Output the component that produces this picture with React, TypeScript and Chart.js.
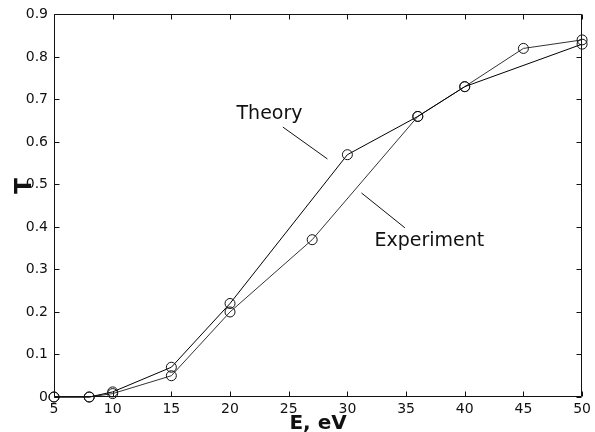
import React, { useEffect, useRef } from "react";
import { Chart, registerables } from "chart.js";

Chart.register(...registerables);

// Transmission T versus electron energy E (eV)
const theoryEnergy = [5, 8, 10, 15, 20, 30, 36, 40, 50];
const theoryT = [0, 0, 0.012, 0.07, 0.22, 0.57, 0.66, 0.73, 0.83];

const experimentEnergy = [5, 8, 10, 15, 20, 27, 36, 40, 45, 50];
const experimentT = [0, 0, 0.008, 0.05, 0.2, 0.37, 0.66, 0.73, 0.82, 0.84];

const xTickLabels = ["5", "10", "15", "20", "25", "30", "35", "40", "45", "50"];
const yTickLabels = ["0", "0.1", "0.2", "0.3", "0.4", "0.5", "0.6", "0.7", "0.8", "0.9"];

const xTitle = "E, eV";
const yTitle = "T";

// In-plot callouts, in data units: text anchor and leader line
const callouts = [
  { text: "Theory", at: [20.55, 0.655], from: [24.5, 0.635], to: [28.3, 0.56] },
  { text: "Experiment", at: [32.3, 0.355], from: [31.2, 0.48], to: [34.9, 0.398] },
];

const FONT = "'DejaVu Sans', sans-serif";
const INK = "#111";

const boxPlugin = {
  id: "boxAndTicks",
  afterDraw(chart: any) {
    const { ctx, chartArea: a, scales } = chart;
    const L = Math.round(a.left) + 0.5;
    const R = Math.round(a.right) - 0.5;
    const T = Math.round(a.top) + 0.5;
    const B = Math.round(a.bottom) - 0.5;
    const len = 5;
    ctx.save();
    ctx.strokeStyle = INK;
    ctx.lineWidth = 1;
    ctx.beginPath();
    ctx.rect(L, T, R - L, B - T);
    scales.x.ticks.forEach((t: any) => {
      const px = Math.round(scales.x.getPixelForValue(t.value)) + 0.5;
      ctx.moveTo(px, B);
      ctx.lineTo(px, B - len);
      ctx.moveTo(px, T);
      ctx.lineTo(px, T + len);
    });
    scales.y.ticks.forEach((t: any) => {
      const py = Math.round(scales.y.getPixelForValue(t.value)) + 0.5;
      ctx.moveTo(L, py);
      ctx.lineTo(L + len, py);
      ctx.moveTo(R, py);
      ctx.lineTo(R - len, py);
    });
    ctx.stroke();

    // callouts
    ctx.fillStyle = INK;
    ctx.font = `19px ${FONT}`;
    ctx.textBaseline = "alphabetic";
    ctx.textAlign = "left";
    callouts.forEach((c) => {
      ctx.beginPath();
      ctx.moveTo(scales.x.getPixelForValue(c.from[0]), scales.y.getPixelForValue(c.from[1]));
      ctx.lineTo(scales.x.getPixelForValue(c.to[0]), scales.y.getPixelForValue(c.to[1]));
      ctx.stroke();
      ctx.fillText(c.text, scales.x.getPixelForValue(c.at[0]), scales.y.getPixelForValue(c.at[1]));
    });

    // axis titles
    ctx.font = `bold 20px ${FONT}`;
    ctx.textAlign = "center";
    ctx.fillText(xTitle, (a.left + a.right) / 2, 429);
    ctx.font = `bold 23px ${FONT}`;
    ctx.save();
    ctx.translate(31, 186);
    ctx.rotate(-Math.PI / 2);
    ctx.fillText(yTitle, 0, 0);
    ctx.restore();
    ctx.restore();
  },
};

export default function App() {
  const ref = useRef<HTMLCanvasElement | null>(null);

  useEffect(() => {
    if (!ref.current) return;
    const series = (xs: number[], ys: number[], color: string) => ({
      data: xs.map((x, i) => ({ x, y: ys[i] })),
      showLine: true,
      borderColor: color,
      borderWidth: 1,
      pointRadius: 5,
      pointBorderWidth: 1,
      pointBorderColor: INK,
      pointBackgroundColor: "rgba(0,0,0,0)",
      clip: false as const,
      tension: 0,
    });
    const chart = new Chart(ref.current, {
      type: "scatter",
      data: {
        datasets: [
          { label: "Theory", ...series(theoryEnergy, theoryT, "#000") },
          { label: "Experiment", ...series(experimentEnergy, experimentT, "#333") },
        ],
      },
      options: {
        responsive: false,
        animation: false,
        events: [],
        layout: { padding: { top: 14, right: 12, left: 0, bottom: 0 } },
        plugins: { legend: { display: false }, tooltip: { enabled: false } },
        scales: {
          x: {
            type: "linear",
            min: 5,
            max: 50,
            afterFit: (s: any) => {
              s.height = 35;
            },
            afterBuildTicks: (s: any) => {
              s.ticks = xTickLabels.map((v) => ({ value: Number(v) }));
            },
            ticks: {
              callback: (v: any) => String(v),
              font: { family: FONT, size: 14 },
              color: INK,
              padding: 4,
              maxRotation: 0,
              autoSkip: false,
            },
            grid: { display: false, drawTicks: false },
            border: { display: false },
          },
          y: {
            type: "linear",
            min: 0,
            max: 0.9,
            afterFit: (s: any) => {
              s.width = 54;
            },
            afterBuildTicks: (s: any) => {
              s.ticks = yTickLabels.map((v) => ({ value: Number(v) }));
            },
            ticks: {
              callback: (v: any) => yTickLabels.find((l) => Math.abs(Number(l) - v) < 1e-9) ?? "",
              font: { family: FONT, size: 14 },
              color: INK,
              padding: 6,
              autoSkip: false,
            },
            grid: { display: false, drawTicks: false },
            border: { display: false },
          },
        },
      },
      plugins: [boxPlugin],
    });
    return () => chart.destroy();
  }, []);

  return (
    <div style={{ position: "absolute", left: 0, top: 0, width: 595, height: 432, background: "#fff" }}>
      <canvas ref={ref} width={595} height={432} style={{ display: "block" }} />
    </div>
  );
}
